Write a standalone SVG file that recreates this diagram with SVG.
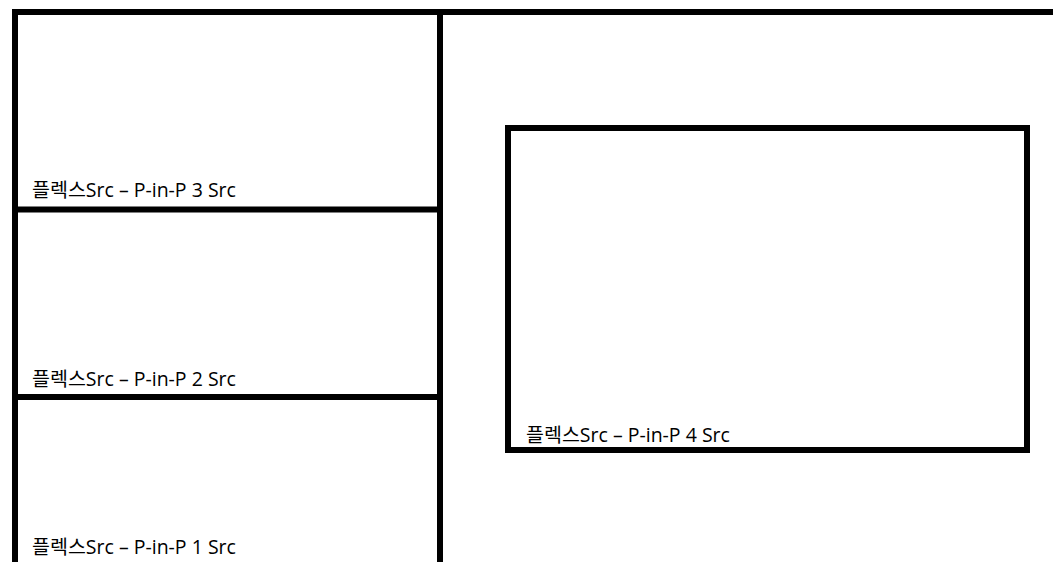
<svg xmlns="http://www.w3.org/2000/svg" width="1053" height="562" viewBox="0 0 1053 562">
<style>
.frame{fill:none;stroke:#000;stroke-width:6}
.lbl{font-family:"Open Sans","Noto Sans CJK KR",sans-serif;font-size:19.5px;fill:#000}
</style>
<rect x="0" y="0" width="1053" height="562" fill="#fff"/>
<g id="outer"><rect class="frame" x="15" y="12" width="1050" height="560"/></g>
<g id="connectors">
<line class="frame" x1="440" y1="12" x2="440" y2="570"/>
<line class="frame" x1="15" y1="209.5" x2="440" y2="209.5"/>
<line class="frame" x1="15" y1="397" x2="440" y2="397"/>
</g>
<g id="pane3"><text class="lbl" x="32" y="197">플렉스Src – P-in-P 3 Src</text></g>
<g id="pane2"><text class="lbl" x="32" y="386">플렉스Src – P-in-P 2 Src</text></g>
<g id="pane1"><text class="lbl" x="32" y="554">플렉스Src – P-in-P 1 Src</text></g>
<g id="pane4">
<rect class="frame" x="508" y="128" width="519" height="322"/>
<text class="lbl" x="526" y="442">플렉스Src – P-in-P 4 Src</text>
</g>
</svg>
